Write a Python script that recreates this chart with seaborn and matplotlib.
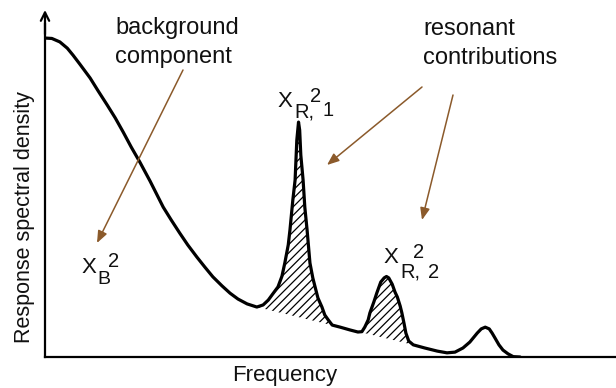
import numpy as np
import matplotlib
matplotlib.use("Agg")
import matplotlib.pyplot as plt
import seaborn as sns

# Response spectrum (arbitrary units): broadband background plus resonant peaks
frequency = [0.02, 0.12, 0.26, 0.39, 0.49, 0.61, 0.79, 0.93, 1.09, 1.23,
             1.37, 1.51, 1.66, 1.84, 2.07, 2.21, 2.36, 2.50, 2.66, 2.80,
             2.94, 3.10, 3.24, 3.38, 3.54, 3.71, 3.82, 3.91, 3.99, 4.08,
             4.15, 4.20, 4.26, 4.29, 4.34, 4.38, 4.41, 4.44, 4.46, 4.48,
             4.52, 4.55, 4.59, 4.64, 4.69, 4.73, 4.78, 4.85, 4.90, 4.96,
             5.03, 5.17, 5.34, 5.48, 5.55, 5.60, 5.66, 5.69, 5.76, 5.81,
             5.88, 5.94, 5.98, 6.02, 6.08, 6.13, 6.17, 6.22, 6.25, 6.29,
             6.32, 6.37, 6.45, 6.65, 6.87, 7.04, 7.18, 7.32, 7.44, 7.57,
             7.64, 7.71, 7.78, 7.83, 7.88, 7.95, 8.02, 8.11, 8.20, 8.32]
response = [9.19, 9.18, 9.08, 8.90, 8.70, 8.44, 8.04, 7.67, 7.26, 6.89,
            6.48, 6.05, 5.62, 5.07, 4.32, 3.95, 3.57, 3.23, 2.88, 2.59,
            2.31, 2.05, 1.84, 1.67, 1.53, 1.44, 1.50, 1.64, 1.82, 2.02,
            2.33, 2.71, 3.23, 3.66, 4.52, 5.10, 6.25, 6.77, 6.54, 5.82,
            5.10, 4.32, 3.66, 2.71, 2.28, 2.02, 1.70, 1.44, 1.21, 1.07,
            0.92, 0.86, 0.78, 0.72, 0.73, 0.86, 1.07, 1.27, 1.59, 1.84,
            2.16, 2.28, 2.32, 2.28, 2.10, 1.87, 1.73, 1.47, 1.27, 0.95,
            0.69, 0.46, 0.35, 0.26, 0.17, 0.12, 0.14, 0.26, 0.43, 0.69,
            0.81, 0.86, 0.81, 0.69, 0.55, 0.35, 0.20, 0.09, 0.01, 0.00]

# Background level running under the two resonant peaks
background_freq = [3.71, 6.45]
background_level = [1.44, 0.35]

# Frequency windows of the shaded resonant contributions
resonance_windows = [(3.71, 5.03), (5.55, 6.45)]

sns.set_theme(style="white")
plt.rcParams["font.family"] = ["Liberation Sans", "DejaVu Sans"]
plt.rcParams["hatch.linewidth"] = 0.9

W, H = 616, 388
fig = plt.figure(figsize=(W / 100, H / 100), dpi=100)
fig.patch.set_facecolor("white")

# axes box in pixels: left 45, right 616, bottom 357, top 10
ax = fig.add_axes([45 / W, (H - 357) / H, (616 - 45) / W, (357 - 10) / H])
ax.set_facecolor("white")

freq = np.array(frequency)
resp = np.array(response)

sns.lineplot(x=freq, y=resp, sort=False, estimator=None, color="black",
             linewidth=2.3, ax=ax, solid_joinstyle="round",
             solid_capstyle="round")

base = np.interp(freq, background_freq, background_level)
for lo, hi in resonance_windows:
    mask = (freq >= lo) & (freq <= hi)
    ax.fill_between(freq, base, resp, where=mask & (resp >= base),
                    interpolate=True, facecolor="none", edgecolor="black",
                    hatch="////", linewidth=0)

ax.set_xlim(0, 10)
ax.set_ylim(0, 10)
ax.set_xticks([])
ax.set_yticks([])
for side in ("top", "right"):
    ax.spines[side].set_visible(False)
for side in ("left", "bottom"):
    ax.spines[side].set_color("black")
    ax.spines[side].set_linewidth(1.6)
ax.spines["left"].set_bounds(0, 9.6)

# arrowhead on the response axis
ax.annotate("", xy=(0, 1.0), xytext=(0, 0.93), xycoords="axes fraction",
            arrowprops=dict(arrowstyle="->,head_length=0.5,head_width=0.25",
                            lw=1.6, color="black", shrinkA=0, shrinkB=0),
            annotation_clip=False)

txt = "#111111"


def px(x, y):
    """figure fraction from pixel position measured from the top-left"""
    return x / W, 1 - y / H


def put(x, y, s, size, **kw):
    fx, fy = px(x, y)
    fig.text(fx, fy, s, fontsize=size, color=txt, ha="left", va="baseline", **kw)


# axis titles
fx, fy = px(285, 381)
fig.text(fx, fy, "Frequency", fontsize=16, color=txt, ha="center", va="baseline")
fx, fy = px(25, 217)
fig.text(fx, fy, "Response spectral density", fontsize=15.5, color=txt,
         rotation=90, ha="center", va="center")

# annotations
put(115, 34, "background", 17)
put(115, 63, "component", 17)
put(423, 35, "resonant", 17)
put(423, 64, "contributions", 17)

# X_B^2
put(81, 273, "X", 16)
put(97, 284, "B", 14)
put(108, 267, "2", 14.5)

# X_R,1^2
put(278, 107, "X", 16)
put(294, 118, "R,", 14.5)
put(310, 102, "2", 14.5)
put(322, 116, "1", 14.5)

# X_R,2^2
put(383, 263, "X", 16)
put(400, 278, "R,", 14.5)
put(413, 258, "2", 14.5)
put(428, 278, "2", 14.5)

brown = "#8B5A2B"
arrows = [((183, 70), (97, 243)),
          ((422, 87), (327, 165)),
          ((453, 95), (422, 220))]
for (x0, y0), (x1, y1) in arrows:
    fig.add_artist(matplotlib.patches.FancyArrowPatch(
        posA=px(x0, y0), posB=px(x1, y1), transform=fig.transFigure,
        arrowstyle="-|>,head_length=0.45,head_width=0.18",
        mutation_scale=16, color=brown, lw=1.1, shrinkA=0, shrinkB=0))

fig.savefig("out.png", dpi=100, facecolor="white")
